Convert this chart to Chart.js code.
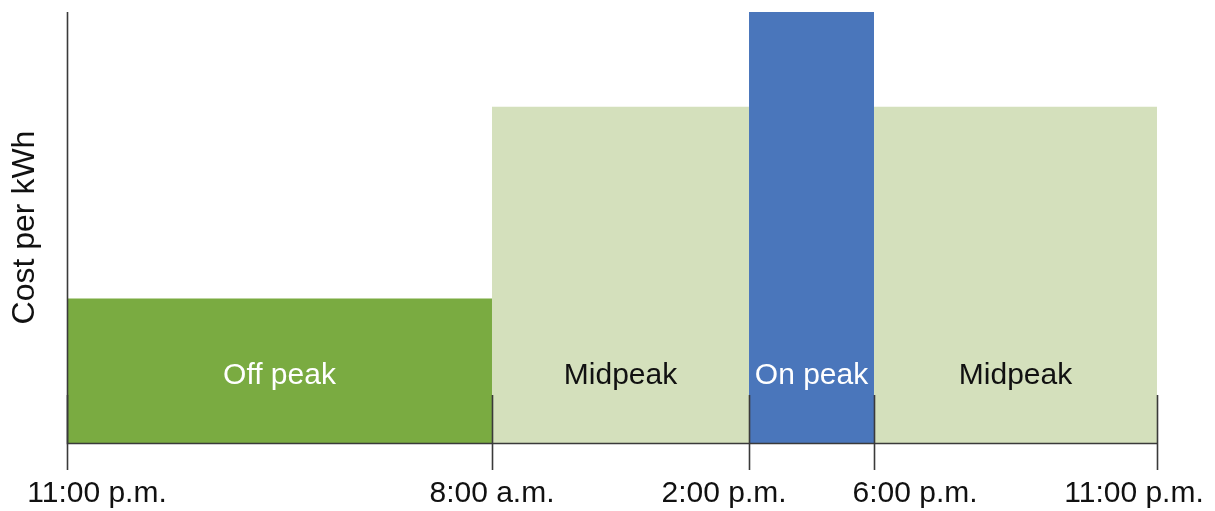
<!DOCTYPE html>
<html>
<head>
<meta charset="utf-8">
<script src="https://cdn.jsdelivr.net/npm/chart.js@4/dist/chart.umd.min.js"></script>
<style>
  html, body { margin: 0; padding: 0; background: #ffffff; }
  #wrap { position: relative; width: 1215px; height: 511px; }
</style>
</head>
<body>
<div id="wrap"><canvas id="c"></canvas></div>
<script>
// ---- data ----
const periodNames = ['Off peak', 'Midpeak', 'On peak', 'Midpeak'];
const periodStartHour = [0, 9, 15, 19];   // hours after 11:00 p.m.
const periodEndHour = [9, 15, 19, 24];
const periodCost = [3.35, 7.8, 10, 7.8];  // relative cost per kWh
const tickHours = [0, 9, 15, 19, 24];
const tickLabels = ['11:00 p.m.', '8:00 a.m.', '2:00 p.m.', '6:00 p.m.', '11:00 p.m.'];

// ---- styling / layout ----
const periodFill = ['#7aab41', '#d4e0bc', '#4a76bb', '#d4e0bc'];
const periodText = ['#ffffff', '#111111', '#ffffff', '#111111'];
// the diagram's time axis is not drawn to scale: share of axis width at each tick
const axisShare = [0, 0.3899, 0.6257, 0.7404, 1];
const tickLabelShift = [30, 0, -25, 41, -23];
const FONT = '"Liberation Sans", Arial, sans-serif';
const AXIS_COLOR = '#3a3a3a';

class PiecewiseScale extends Chart.LinearScale {
  getPixelForValue(value) {
    if (value === null || isNaN(value)) return NaN;
    let i = 0;
    while (i < tickHours.length - 2 && value > tickHours[i + 1]) i++;
    const t = (value - tickHours[i]) / (tickHours[i + 1] - tickHours[i]);
    return this.getPixelForDecimal(axisShare[i] + t * (axisShare[i + 1] - axisShare[i]));
  }
  getValueForPixel(pixel) {
    const d = this.getDecimalForPixel(pixel);
    let i = 0;
    while (i < axisShare.length - 2 && d > axisShare[i + 1]) i++;
    const t = (d - axisShare[i]) / (axisShare[i + 1] - axisShare[i]);
    return tickHours[i] + t * (tickHours[i + 1] - tickHours[i]);
  }
}
PiecewiseScale.id = 'piecewise';
PiecewiseScale.defaults = Chart.LinearScale.defaults;
Chart.register(PiecewiseScale);

const datasets = periodNames.map((name, i) => ({
  label: name,
  data: [{ x: periodStartHour[i], y: periodCost[i] }, { x: periodEndHour[i], y: periodCost[i] }],
  backgroundColor: periodFill[i],
  borderColor: periodFill[i],
  borderWidth: 0,
  pointRadius: 0,
  fill: 'origin',
  tension: 0
}));

const decorPlugin = {
  id: 'decor',
  afterDatasetsDraw(chart) {
    const ctx = chart.ctx;
    const xs = chart.scales.x, ys = chart.scales.y;
    const area = chart.chartArea;
    ctx.save();
    ctx.strokeStyle = AXIS_COLOR;
    ctx.lineWidth = 1.6;
    // axis lines (drawn over the filled periods)
    const x0 = Math.round(xs.getPixelForValue(tickHours[0])) + 0.5;
    const y0 = Math.round(ys.getPixelForValue(0)) + 0.5;
    ctx.beginPath();
    ctx.moveTo(x0, ys.getPixelForValue(ys.max));
    ctx.lineTo(x0, y0);
    ctx.lineTo(xs.getPixelForValue(tickHours[tickHours.length - 1]), y0);
    ctx.stroke();
    // tick marks crossing the axis
    tickHours.forEach(h => {
      const px = Math.round(xs.getPixelForValue(h)) + 0.5;
      ctx.beginPath();
      ctx.moveTo(px, area.bottom - 48);
      ctx.lineTo(px, area.bottom + 27);
      ctx.stroke();
    });
    // tick labels
    ctx.fillStyle = '#111111';
    ctx.font = '30px ' + FONT;
    ctx.textAlign = 'center';
    ctx.textBaseline = 'alphabetic';
    tickLabels.forEach((lab, i) => {
      ctx.fillText(lab, xs.getPixelForValue(tickHours[i]) + tickLabelShift[i], area.bottom + 59);
    });
    // period names
    ctx.font = '30px ' + FONT;
    ctx.textBaseline = 'middle';
    const labelY = ys.getPixelForValue(Math.min(...periodCost) / 2);
    periodNames.forEach((name, i) => {
      const cx = (xs.getPixelForValue(periodStartHour[i]) + xs.getPixelForValue(periodEndHour[i])) / 2;
      ctx.fillStyle = periodText[i];
      ctx.fillText(name, cx, labelY + 5);
    });
    ctx.restore();
  }
};

new Chart(document.getElementById('c'), {
  type: 'line',
  data: { datasets },
  options: {
    responsive: true,
    maintainAspectRatio: false,
    animation: false,
    events: [],
    layout: { padding: { left: 0, right: 58, top: 12, bottom: 0 } },
    plugins: { legend: { display: false }, tooltip: { enabled: false } },
    scales: {
      x: {
        type: 'piecewise',
        min: 0,
        max: 24,
        afterBuildTicks: s => { s.ticks = tickHours.map(v => ({ value: v })); },
        afterFit: s => { s.height = 68; s.paddingLeft = 0; s.paddingRight = 0; },
        ticks: { display: false },
        grid: { display: false },
        border: { display: false }
      },
      y: {
        min: 0,
        max: 10,
        afterFit: s => { s.width = 67; },
        ticks: { display: false },
        grid: { display: false },
        border: { display: false },
        title: {
          display: true,
          text: 'Cost per kWh',
          color: '#111111',
          font: { family: FONT, size: 32 },
          padding: { top: 6, bottom: 0 }
        }
      }
    }
  },
  plugins: [decorPlugin]
});
</script>
</body>
</html>
